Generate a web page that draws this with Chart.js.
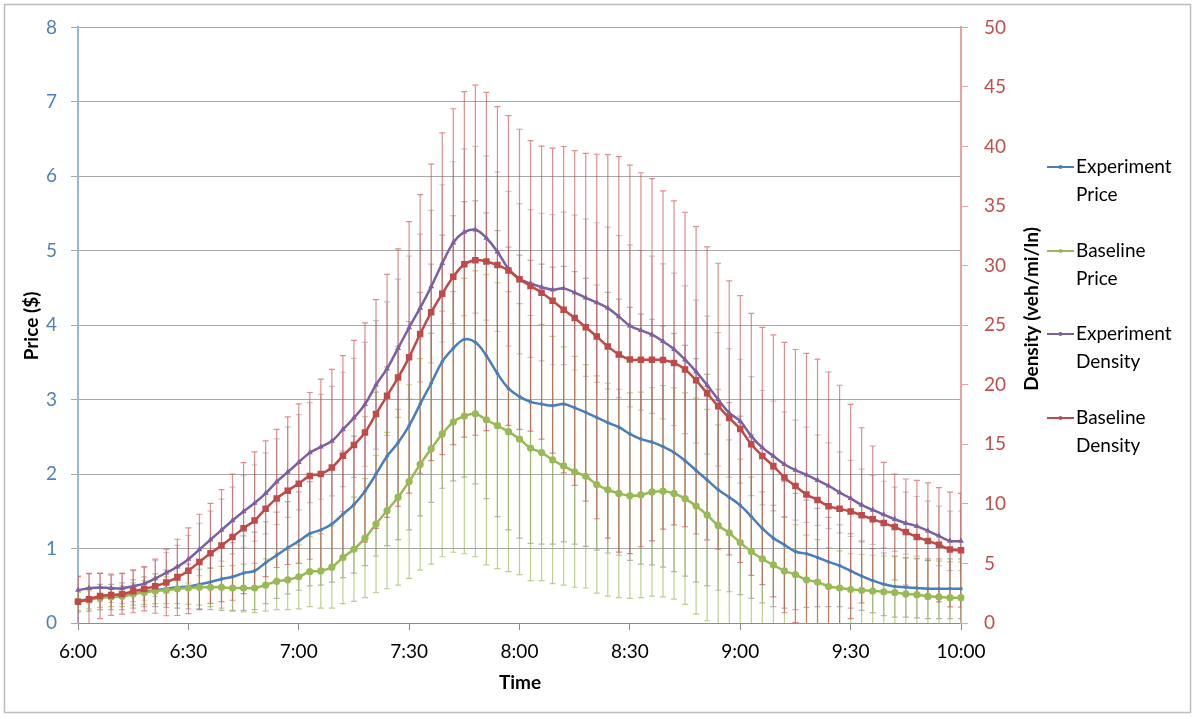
<!DOCTYPE html>
<html lang="en">
<head>
    <meta charset="UTF-8">
    <title>Price and Density</title>
    <style>
        body {
            margin: 0;
            background: #fff;
        }
        canvas {
            display: block;
        }
    </style>
</head>
<body>
    <canvas id="myChart" width="1196" height="719"></canvas>

    <script src="https://cdn.jsdelivr.net/npm/chart.js"></script>
    <script>
        // 3-minute intervals, 6:00 - 10:00
        const times = [
            '6:00','6:03','6:06','6:09','6:12','6:15','6:18','6:21','6:24','6:27',
            '6:30','6:33','6:36','6:39','6:42','6:45','6:48','6:51','6:54','6:57',
            '7:00','7:03','7:06','7:09','7:12','7:15','7:18','7:21','7:24','7:27',
            '7:30','7:33','7:36','7:39','7:42','7:45','7:48','7:51','7:54','7:57',
            '8:00','8:03','8:06','8:09','8:12','8:15','8:18','8:21','8:24','8:27',
            '8:30','8:33','8:36','8:39','8:42','8:45','8:48','8:51','8:54','8:57',
            '9:00','9:03','9:06','9:09','9:12','9:15','9:18','9:21','9:24','9:27',
            '9:30','9:33','9:36','9:39','9:42','9:45','9:48','9:51','9:54','9:57',
            '10:00'
        ];
        const tickLabels = ['6:00', '6:30', '7:00', '7:30', '8:00', '8:30', '9:00', '9:30', '10:00'];

        // Price ($)
        const experimentPrice = [
            0.30, 0.32, 0.35, 0.35, 0.36, 0.39, 0.42, 0.44, 0.46, 0.48,
            0.49, 0.52, 0.55, 0.59, 0.62, 0.67, 0.70, 0.81, 0.91, 1.01,
            1.10, 1.20, 1.25, 1.33, 1.46, 1.59, 1.77, 2.00, 2.24, 2.42,
            2.65, 2.94, 3.22, 3.51, 3.69, 3.81, 3.77, 3.59, 3.35, 3.15,
            3.04, 2.97, 2.94, 2.92, 2.94, 2.89, 2.83, 2.76, 2.69, 2.63,
            2.54, 2.47, 2.43, 2.37, 2.29, 2.18, 2.05, 1.92, 1.79, 1.69,
            1.58, 1.43, 1.27, 1.14, 1.05, 0.96, 0.93, 0.88, 0.82, 0.77,
            0.70, 0.63, 0.57, 0.52, 0.49, 0.48, 0.47, 0.46, 0.46, 0.46,
            0.46
        ];
        const baselinePrice = [
            0.29, 0.31, 0.34, 0.35, 0.36, 0.39, 0.41, 0.43, 0.44, 0.46,
            0.47, 0.48, 0.48, 0.48, 0.47, 0.47, 0.47, 0.51, 0.56, 0.58,
            0.62, 0.69, 0.70, 0.75, 0.88, 0.99, 1.14, 1.33, 1.51, 1.69,
            1.90, 2.13, 2.34, 2.54, 2.70, 2.78, 2.81, 2.73, 2.65, 2.57,
            2.47, 2.35, 2.29, 2.19, 2.11, 2.03, 1.97, 1.86, 1.79, 1.74,
            1.71, 1.72, 1.76, 1.77, 1.74, 1.67, 1.57, 1.45, 1.31, 1.21,
            1.08, 0.96, 0.86, 0.78, 0.70, 0.65, 0.58, 0.55, 0.49, 0.47,
            0.45, 0.44, 0.43, 0.42, 0.41, 0.39, 0.38, 0.36, 0.35, 0.34,
            0.34
        ];

        // Density (veh/mi/ln)
        const experimentDensity = [
            2.76, 2.92, 2.99, 2.92, 2.92, 3.09, 3.31, 3.74, 4.22, 4.71,
            5.36, 6.17, 6.99, 7.80, 8.61, 9.36, 10.07, 10.89, 11.86, 12.67,
            13.49, 14.30, 14.79, 15.27, 16.25, 17.22, 18.36, 19.99, 21.35, 23.07,
            24.80, 26.45, 28.24, 30.19, 31.92, 32.81, 33.01, 32.32, 31.17, 29.74,
            28.90, 28.50, 28.20, 27.98, 28.09, 27.74, 27.30, 26.90, 26.43, 25.72,
            24.95, 24.57, 24.20, 23.64, 22.98, 22.10, 21.10, 19.97, 18.77, 17.64,
            16.94, 15.69, 14.72, 14.02, 13.33, 12.83, 12.44, 11.99, 11.52, 10.96,
            10.46, 9.91, 9.49, 9.10, 8.71, 8.38, 8.12, 7.73, 7.31, 6.89,
            6.89
        ];
        const baselineDensity = [
            1.79, 2.00, 2.27, 2.34, 2.44, 2.66, 2.86, 3.09, 3.41, 3.83,
            4.39, 5.13, 5.85, 6.50, 7.21, 7.96, 8.61, 9.59, 10.46, 11.11,
            11.70, 12.35, 12.51, 13.06, 14.04, 14.95, 15.99, 17.55, 19.07, 20.60,
            22.30, 24.27, 26.08, 27.64, 29.07, 30.11, 30.46, 30.35, 30.05, 29.59,
            28.85, 28.30, 27.73, 27.06, 26.30, 25.60, 24.83, 24.05, 23.22, 22.55,
            22.13, 22.10, 22.10, 22.08, 21.83, 21.28, 20.37, 19.28, 18.20, 17.22,
            16.28, 15.00, 14.02, 13.19, 12.21, 11.50, 10.79, 10.33, 9.81, 9.59,
            9.36, 9.04, 8.71, 8.39, 8.06, 7.64, 7.22, 6.89, 6.57, 6.17,
            6.11
        ];

        // standard deviations (error bars, +/-)
        const experimentPriceErr = [
            0.15, 0.16, 0.17, 0.17, 0.18, 0.19, 0.20, 0.22, 0.25, 0.28,
            0.30, 0.33, 0.37, 0.42, 0.46, 0.50, 0.52, 0.55, 0.58, 0.62,
            0.66, 0.70, 0.74, 0.78, 0.85, 0.92, 1.00, 1.10, 1.20, 1.30,
            1.40, 1.50, 1.60, 1.70, 1.78, 1.85, 1.90, 1.92, 1.92, 1.90,
            1.90, 1.90, 1.88, 1.86, 1.85, 1.83, 1.80, 1.78, 1.75, 1.72,
            1.70, 1.68, 1.65, 1.62, 1.60, 1.55, 1.50, 1.42, 1.35, 1.27,
            1.20, 1.10, 1.00, 0.92, 0.85, 0.78, 0.72, 0.66, 0.60, 0.55,
            0.50, 0.46, 0.43, 0.42, 0.41, 0.40, 0.40, 0.40, 0.40, 0.40,
            0.40
        ];
        const baselinePriceErr = [
            0.12, 0.12, 0.13, 0.13, 0.14, 0.15, 0.16, 0.17, 0.18, 0.20,
            0.22, 0.24, 0.26, 0.28, 0.30, 0.32, 0.33, 0.35, 0.38, 0.40,
            0.43, 0.47, 0.50, 0.55, 0.62, 0.70, 0.80, 0.92, 1.05, 1.18,
            1.30, 1.42, 1.55, 1.65, 1.75, 1.85, 1.92, 1.95, 1.92, 1.88,
            1.82, 1.78, 1.72, 1.66, 1.60, 1.55, 1.50, 1.46, 1.43, 1.40,
            1.38, 1.38, 1.40, 1.42, 1.42, 1.42, 1.45, 1.42, 1.35, 1.25,
            1.12, 1.00, 0.90, 0.80, 0.72, 0.67, 0.60, 0.57, 0.52, 0.50,
            0.48, 0.48, 0.48, 0.48, 0.48, 0.48, 0.48, 0.48, 0.48, 0.48,
            0.48
        ];
        const experimentDensityErr = [
            1.2, 1.2, 1.2, 1.2, 1.3, 1.3, 1.4, 1.5, 1.7, 1.8,
            2.0, 2.2, 2.4, 2.6, 2.8, 3.0, 3.2, 3.4, 3.6, 3.8,
            4.0, 4.2, 4.4, 4.6, 4.8, 5.0, 5.2, 5.4, 5.6, 5.8,
            6.0, 6.2, 6.4, 6.6, 6.8, 7.0, 7.0, 6.9, 6.7, 6.5,
            6.3, 6.2, 6.2, 6.3, 6.4, 6.5, 6.6, 6.7, 6.8, 6.8,
            6.8, 6.7, 6.6, 6.5, 6.4, 6.2, 6.0, 5.8, 5.6, 5.4,
            5.2, 5.0, 4.8, 4.6, 4.4, 4.2, 4.0, 3.8, 3.6, 3.4,
            3.2, 3.0, 2.9, 2.8, 2.7, 2.6, 2.5, 2.5, 2.5, 2.5,
            2.5
        ];
        const baselineDensityErr = [
            2.10, 2.16, 1.90, 1.70, 1.70, 1.80, 1.85, 2.27, 2.80, 3.20,
            3.60, 4.00, 4.20, 4.70, 5.30, 5.50, 5.75, 5.70, 5.80, 6.20,
            6.70, 7.00, 7.97, 8.23, 8.40, 8.77, 9.20, 9.60, 10.20, 10.80,
            11.40, 11.70, 12.45, 13.50, 14.10, 14.50, 14.70, 14.20, 13.30, 13.00,
            12.60, 12.20, 12.30, 12.80, 13.70, 14.05, 14.60, 15.30, 16.10, 16.60,
            16.30, 15.70, 15.20, 14.20, 13.60, 13.20, 12.90, 12.30, 12.00, 11.50,
            11.20, 11.00, 10.80, 11.00, 11.35, 11.46, 11.85, 11.83, 11.26, 10.37,
            9.00, 7.35, 6.15, 5.10, 4.45, 4.45, 4.75, 4.87, 4.80, 4.81,
            4.78
        ];

        const FONT = 'Lato, "Liberation Sans", sans-serif';

        // vertical +/- bars with small caps, drawn under the lines
        const errorBarPlugin = {
            id: 'errorBars',
            beforeDatasetsDraw(chart) {
                const ctx = chart.ctx;
                const area = chart.chartArea;
                const xScale = chart.scales.x;
                ctx.save();
                ctx.beginPath();
                ctx.rect(area.left, area.top - 1, area.right - area.left, area.bottom - area.top + 1);
                ctx.clip();
                chart.data.datasets.forEach(ds => {
                    const yScale = chart.scales[ds.yAxisID];
                    ctx.strokeStyle = ds.errorColor;
                    ctx.lineWidth = 1.2;
                    ds.data.forEach((v, i) => {
                        const x = xScale.getPixelForValue(i);
                        const yTop = yScale.getPixelForValue(v + ds.errors[i]);
                        const yBot = yScale.getPixelForValue(v - ds.errors[i]);
                        ctx.beginPath();
                        ctx.moveTo(x, yTop);
                        ctx.lineTo(x, yBot);
                        ctx.moveTo(x - 3, yTop);
                        ctx.lineTo(x + 3, yTop);
                        ctx.moveTo(x - 3, yBot);
                        ctx.lineTo(x + 3, yBot);
                        ctx.stroke();
                    });
                });
                ctx.restore();
            }
        };

        // outer frame, axis titles and the two-line legend on the right
        const decorPlugin = {
            id: 'decor',
            beforeDraw(chart) {
                const ctx = chart.ctx;
                ctx.save();
                ctx.fillStyle = '#fff';
                ctx.fillRect(0, 0, chart.width, chart.height);
                ctx.strokeStyle = '#bdbdbd';
                ctx.lineWidth = 1.5;
                ctx.strokeRect(4.5, 4.5, 1186, 708);
                ctx.restore();
            },
            afterDraw(chart) {
                const ctx = chart.ctx;
                ctx.save();
                ctx.fillStyle = '#000';
                ctx.font = 'bold 19px ' + FONT;
                ctx.textAlign = 'center';
                ctx.textBaseline = 'middle';
                ctx.fillText('Time', 520, 683);

                ctx.save();
                ctx.translate(32, 326);
                ctx.rotate(-Math.PI / 2);
                ctx.fillText('Price ($)', 0, 0);
                ctx.restore();

                ctx.save();
                ctx.translate(1032, 309);
                ctx.rotate(-Math.PI / 2);
                ctx.fillText('Density (veh/mi/ln)', 0, 0);
                ctx.restore();

                const legendY = [167, 251, 334, 418];
                ctx.font = '19px ' + FONT;
                ctx.textAlign = 'left';
                chart.data.datasets.forEach((ds, i) => {
                    const y = legendY[i];
                    ctx.strokeStyle = ds.borderColor;
                    ctx.lineWidth = 2;
                    ctx.beginPath();
                    ctx.moveTo(1047, y);
                    ctx.lineTo(1074, y);
                    ctx.stroke();
                    ctx.fillStyle = ds.borderColor;
                    ctx.beginPath();
                    ctx.arc(1060.5, y, 2, 0, Math.PI * 2);
                    ctx.fill();
                    ctx.fillStyle = '#000';
                    const words = ds.label.split(' ');
                    ctx.fillText(words[0], 1076, y);
                    ctx.fillText(words[1], 1076, y + 28);
                });
                ctx.restore();
            }
        };

        const ctx = document.getElementById('myChart').getContext('2d');
        new Chart(ctx, {
            type: 'line',
            data: {
                labels: times,
                datasets: [
                    {
                        label: 'Experiment Price',
                        data: experimentPrice,
                        errors: experimentPriceErr,
                        errorColor: 'rgba(95, 95, 95, 0.45)',
                        yAxisID: 'yPrice',
                        borderColor: '#4a7ebb',
                        backgroundColor: '#4a7ebb',
                        pointStyle: 'circle',
                        pointRadius: 1.8,
                        order: 4
                    },
                    {
                        label: 'Baseline Price',
                        data: baselinePrice,
                        errors: baselinePriceErr,
                        errorColor: 'rgba(150, 185, 80, 0.65)',
                        yAxisID: 'yPrice',
                        borderColor: '#98b954',
                        backgroundColor: '#98b954',
                        pointStyle: 'circle',
                        pointRadius: 3.6,
                        order: 3
                    },
                    {
                        label: 'Experiment Density',
                        data: experimentDensity,
                        errors: experimentDensityErr,
                        errorColor: 'rgba(150, 105, 125, 0.4)',
                        yAxisID: 'yDensity',
                        borderColor: '#7d60a0',
                        backgroundColor: '#7d60a0',
                        pointStyle: 'triangle',
                        pointRadius: 3.4,
                        order: 2
                    },
                    {
                        label: 'Baseline Density',
                        data: baselineDensity,
                        errors: baselineDensityErr,
                        errorColor: 'rgba(200, 75, 72, 0.62)',
                        yAxisID: 'yDensity',
                        borderColor: '#be4b48',
                        backgroundColor: '#be4b48',
                        pointStyle: 'rect',
                        pointRadius: 4.6,
                        order: 1
                    }
                ]
            },
            options: {
                responsive: false,
                animation: false,
                layout: { padding: { top: 24, left: 0, right: 0, bottom: 0 } },
                elements: {
                    line: { borderWidth: 2.5, tension: 0.4 },
                    point: { borderWidth: 0, hoverRadius: 3 }
                },
                plugins: {
                    legend: { display: false },
                    tooltip: { enabled: false }
                },
                scales: {
                    x: {
                        offset: false,
                        grid: {
                            drawOnChartArea: false,
                            tickLength: 7,
                            color: c => (c.index % 10 === 0 ? '#8c8c8c' : 'rgba(0,0,0,0)')
                        },
                        border: { color: '#8c8c8c', width: 1 },
                        ticks: {
                            autoSkip: false,
                            maxRotation: 0,
                            padding: 10,
                            color: '#000',
                            font: { family: FONT, size: 19 },
                            callback: function (value, index) {
                                return tickLabels.includes(times[index]) ? times[index] : '';
                            }
                        },
                        afterFit: s => { s.height = 96; }
                    },
                    yPrice: {
                        position: 'left',
                        min: 0,
                        max: 8,
                        ticks: {
                            stepSize: 1,
                            padding: 14,
                            color: '#4f81bd',
                            font: { family: FONT, size: 19 }
                        },
                        grid: { color: '#a8a8a8', tickLength: 7, tickColor: '#a8a8a8' },
                        border: { color: '#9ab6da', width: 2 },
                        afterFit: s => { s.width = 78; }
                    },
                    yDensity: {
                        position: 'right',
                        min: 0,
                        max: 50,
                        ticks: {
                            stepSize: 5,
                            padding: 16,
                            color: '#c0504d',
                            font: { family: FONT, size: 19 }
                        },
                        grid: { drawOnChartArea: false, tickLength: 7, color: '#e6a3a2' },
                        border: { color: '#e6a3a2', width: 2 },
                        afterFit: s => { s.width = 235; }
                    }
                }
            },
            plugins: [errorBarPlugin, decorPlugin]
        });
    </script>
</body>
</html>
